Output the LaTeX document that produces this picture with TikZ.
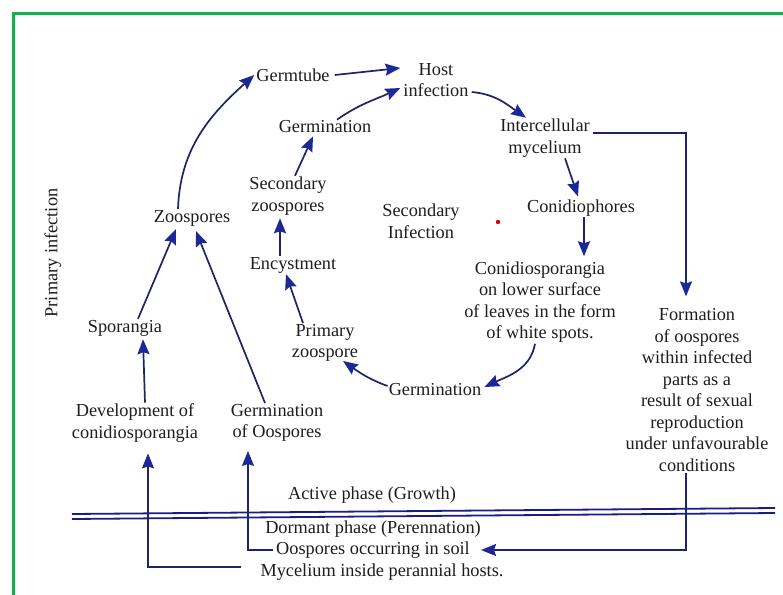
\documentclass[tikz,border=0pt]{standalone}
\usepackage{fontspec}
\setmainfont{Liberation Serif}
\usetikzlibrary{arrows.meta,calc}
\definecolor{lineblue}{RGB}{30,36,105}
\definecolor{tipblue}{RGB}{28,40,150}
\definecolor{framegreen}{RGB}{20,178,72}
\definecolor{txt}{RGB}{30,30,30}
\begin{document}
\begin{tikzpicture}[x=1pt,y=1pt,
  lbl/.style={align=center,inner sep=1pt,text=txt,font=\fontsize{18.3}{21.5}\selectfont},
  arr/.style={draw=lineblue,line width=1.7pt,-{Stealth[length=15pt,width=12pt,inset=2pt,color=tipblue]}},
  phase/.style={draw=lineblue!80!blue,line width=1.8pt}]
\useasboundingbox (0,0) rectangle (783,-594);
\fill[white] (0,0) rectangle (783,-594);
% green frame (top and left edges visible)
\draw[framegreen,line width=3pt] (13,-600) -- (13,-14) -- (790,-14);

% nodes
\node[lbl] (germtube) at (293,-75) {Germtube};
\node[lbl] (host) at (436,-80) {Host\\infection};
\node[lbl] (germtop) at (325,-127) {Germination};
\node[lbl] (intercell) at (545,-138) {Intercellular\\mycelium};
\node[lbl] (seczoo) at (288,-196) {Secondary\\zoospores};
\node[lbl] (zoosp) at (192,-218) {Zoospores};
\node[lbl] (secinf) at (421,-221) {Secondary\\Infection};
\node[lbl] (conidioph) at (581,-208) {Conidiophores};
\node[lbl] (encyst) at (293,-265) {Encystment};
\node[lbl] (conidiospor) at (540,-302) {Conidiosporangia\\on lower surface\\of leaves in the form\\of white spots.};
\node[lbl] (sporangia) at (125,-328) {Sporangia};
\node[lbl] (primzoo) at (325,-343) {Primary\\zoospore};
\node[lbl] (formation) at (697,-390) {Formation\\of oospores\\within infected\\parts as a\\result of sexual\\reproduction\\under unfavourable\\conditions};
\node[lbl] (germbot) at (435,-390) {Germination};
\node[lbl] (devcon) at (135,-423) {Development of\\conidiosporangia};
\node[lbl] (germoo) at (277,-423) {Germination\\of Oospores};
\node[lbl] (active) at (372,-495) {Active phase (Growth)};
\node[lbl] (dormant) at (373,-529) {Dormant phase (Perennation)};
\node[lbl] (oosoil) at (373,-550) {Oospores occurring in soil};
\node[lbl] (mycel) at (382,-572) {Mycelium inside perannial hosts.};
\node[lbl,rotate=90] (priminf) at (53,-253) {Primary infection};

% stray dot
\fill[red!85!black] (498,-222) circle (2.2pt);

% phase divider (double line)
\draw[phase] (72,-514) -- (775,-508);
\draw[phase] (72,-519) -- (775,-513);

% connectors
\draw[arr] ([xshift=-14pt]zoosp.north) to[out=88,in=222] ([xshift=-1pt]germtube.west);
\draw[arr] ([xshift=4pt]germtube.east) -- ($(host.west)+(-2,12)$);
\draw[arr] ([xshift=12pt]germtop.north) to[out=35,in=205] ($(host.west)+(-2,-8)$);
\draw[arr] ($(host.east)+(2,-12)$) to[out=-5,in=145] ([xshift=-19pt]intercell.north);
\coordinate (fmtop) at ([xshift=-11pt,yshift=11pt]formation.north);
\draw[arr] ($(intercell.east)+(2,5)$) -| (fmtop);
\draw[arr] ([xshift=20pt]intercell.south) -- ([xshift=-3pt,yshift=2pt]conidioph.north);
\draw[arr] ([xshift=3pt]conidioph.south) -- ([xshift=3pt,yshift=4pt]conidioph.south |- conidiospor.north);
\draw[arr] ([xshift=-5pt]conidiospor.south) to[out=-100,in=25] ([xshift=2pt,yshift=3pt]germbot.east);
\draw[arr] ([yshift=4pt]germbot.west) to[out=160,in=-35] ([xshift=18pt,yshift=2pt]primzoo.south);
\draw[arr] ([xshift=-22pt]primzoo.north) -- ([xshift=-7pt]encyst.south);
\draw[arr] ([xshift=-13pt]encyst.north) -- ([xshift=-8pt,yshift=-2pt]seczoo.south);
\draw[arr] ([xshift=7pt]seczoo.north) -- ([xshift=-12pt,yshift=-2pt]germtop.south);
\draw[arr] ([xshift=13pt]sporangia.north) -- ([xshift=-16pt,yshift=-2pt]zoosp.south);
\draw[arr] ([xshift=-12pt]germoo.north) -- ([xshift=4pt,yshift=-4pt]zoosp.south);
\draw[arr] ([xshift=10pt]devcon.north) -- ([xshift=18pt,yshift=-2pt]sporangia.south);
\draw[arr] ($(mycel.west)+(-18,5)$) -| ([xshift=13pt,yshift=-10pt]devcon.south);
\draw[arr] ($(oosoil.west)+(-2,0)$) -| ([xshift=-29pt,yshift=-8pt]germoo.south);
\draw[arr] ([xshift=-11pt]formation.south) |- ($(oosoil.east)+(10,0)$);
\end{tikzpicture}
\end{document}
